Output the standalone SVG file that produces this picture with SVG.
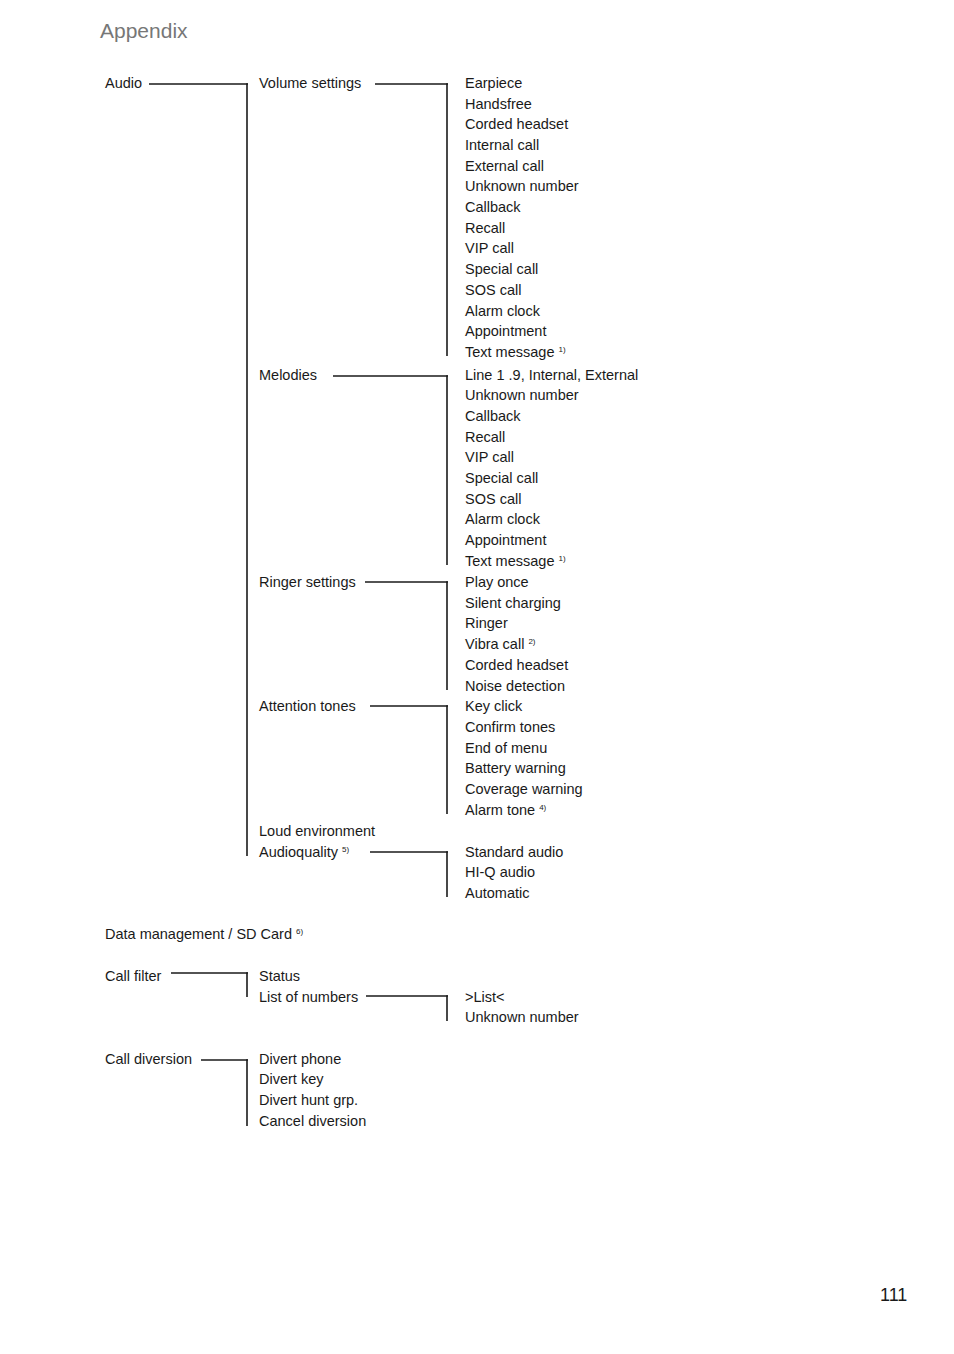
<svg xmlns="http://www.w3.org/2000/svg" width="954" height="1354" viewBox="0 0 954 1354">
<style>
text{font-family:"Liberation Sans",Arial,sans-serif;font-size:14.5px;fill:#1a1a1a}
.h{font-size:21px;fill:#777}
.s{font-size:8px}
.c line{stroke:#1a1a1a;stroke-width:1.6}
</style>
<rect width="954" height="1354" fill="#fff"/>
<text class="h" x="100" y="38">Appendix</text>
<g class="c">
<line x1="149" y1="84" x2="248" y2="84"/><line x1="247" y1="83.2" x2="247" y2="856"/>
<line x1="375" y1="84" x2="448" y2="84"/><line x1="447" y1="83.2" x2="447" y2="356"/>
<line x1="333" y1="376" x2="448" y2="376"/><line x1="447" y1="375.2" x2="447" y2="565"/>
<line x1="365" y1="582" x2="448" y2="582"/><line x1="447" y1="581.2" x2="447" y2="690"/>
<line x1="370" y1="706" x2="448" y2="706"/><line x1="447" y1="705.2" x2="447" y2="814"/>
<line x1="370" y1="852" x2="448" y2="852"/><line x1="447" y1="851.2" x2="447" y2="897"/>
<line x1="171" y1="973" x2="248" y2="973"/><line x1="247" y1="972.2" x2="247" y2="997"/>
<line x1="366" y1="996" x2="448" y2="996"/><line x1="447" y1="995.2" x2="447" y2="1021"/>
<line x1="201" y1="1060" x2="248" y2="1060"/><line x1="247" y1="1059.2" x2="247" y2="1126"/>
</g>
<g id="audio"><text x="105" y="88">Audio</text></g>
<g id="volume"><text x="259" y="88">Volume settings</text></g>
<g id="volume-items">
<text x="465" y="88">Earpiece</text><text x="465" y="109">Handsfree</text><text x="465" y="129">Corded headset</text><text x="465" y="150">Internal call</text><text x="465" y="171">External call</text><text x="465" y="191">Unknown number</text><text x="465" y="212">Callback</text><text x="465" y="233">Recall</text><text x="465" y="253">VIP call</text><text x="465" y="274">Special call</text><text x="465" y="295">SOS call</text><text x="465" y="316">Alarm clock</text><text x="465" y="336">Appointment</text><text x="465" y="357">Text message <tspan class="s" dy="-5">1)</tspan></text>
</g>
<g id="melodies"><text x="259" y="380">Melodies</text></g>
<g id="melody-items">
<text x="465" y="380">Line 1 .9, Internal, External</text><text x="465" y="400">Unknown number</text><text x="465" y="421">Callback</text><text x="465" y="442">Recall</text><text x="465" y="462">VIP call</text><text x="465" y="483">Special call</text><text x="465" y="504">SOS call</text><text x="465" y="524">Alarm clock</text><text x="465" y="545">Appointment</text><text x="465" y="566">Text message <tspan class="s" dy="-5">1)</tspan></text>
</g>
<g id="ringer"><text x="259" y="587">Ringer settings</text></g>
<g id="ringer-items">
<text x="465" y="587">Play once</text><text x="465" y="608">Silent charging</text><text x="465" y="628">Ringer</text><text x="465" y="649">Vibra call <tspan class="s" dy="-5">2)</tspan></text><text x="465" y="670">Corded headset</text><text x="465" y="691">Noise detection</text>
</g>
<g id="attention"><text x="259" y="711">Attention tones</text></g>
<g id="attention-items">
<text x="465" y="711">Key click</text><text x="465" y="732">Confirm tones</text><text x="465" y="753">End of menu</text><text x="465" y="773">Battery warning</text><text x="465" y="794">Coverage warning</text><text x="465" y="815">Alarm tone <tspan class="s" dy="-5">4)</tspan></text>
</g>
<g id="loud"><text x="259" y="836">Loud environment</text></g>
<g id="audioquality"><text x="259" y="857">Audioquality <tspan class="s" dy="-5">5)</tspan></text></g>
<g id="aq-items"><text x="465" y="857">Standard audio</text><text x="465" y="877">HI-Q audio</text><text x="465" y="898">Automatic</text></g>
<g id="data"><text x="105" y="939">Data management / SD Card <tspan class="s" dy="-5">6)</tspan></text></g>
<g id="callfilter"><text x="105" y="981">Call filter</text></g>
<g id="cf-items"><text x="259" y="981">Status</text><text x="259" y="1002">List of numbers</text></g>
<g id="list-items"><text x="465" y="1002">&gt;List&lt;</text><text x="465" y="1022">Unknown number</text></g>
<g id="calldiv"><text x="105" y="1064">Call diversion</text></g>
<g id="cd-items"><text x="259" y="1064">Divert phone</text><text x="259" y="1084">Divert key</text><text x="259" y="1105">Divert hunt grp.</text><text x="259" y="1126">Cancel diversion</text></g>
<text x="880" y="1301" style="font-size:18px">111</text>
</svg>
